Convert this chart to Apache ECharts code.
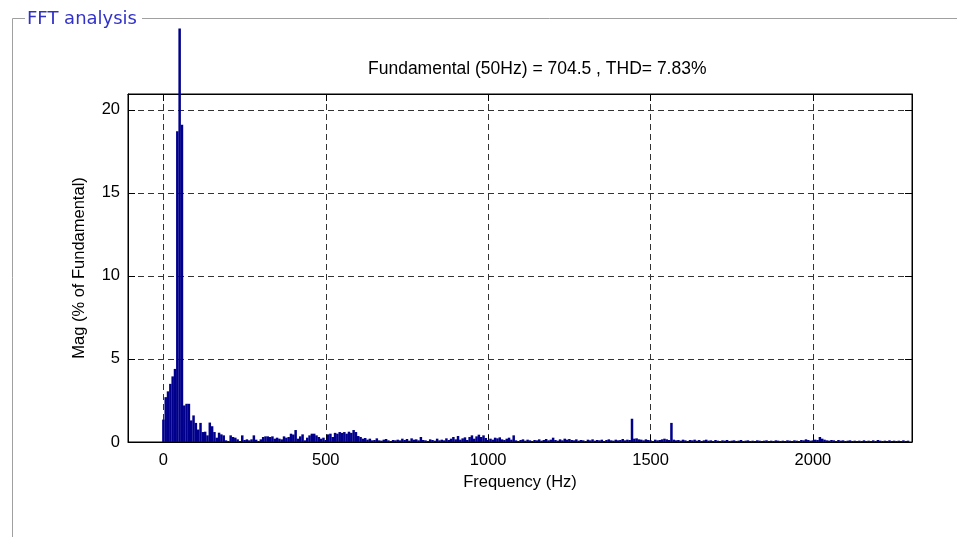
<!DOCTYPE html>
<html>
<head>
<meta charset="utf-8">
<title>FFT analysis</title>
<script src="https://cdn.jsdelivr.net/npm/echarts@6/dist/echarts.min.js"></script>
<style>
  html, body { margin: 0; padding: 0; background: #fff; }
  #chart { width: 957px; height: 537px; }
</style>
</head>
<body>
<div id="chart"></div>
<script>
// FFT bins are 50/7 Hz apart (7 cycle window), magnitudes in % of fundamental
const BIN_HZ = 50 / 7;
const magnitudes = [
  1.35, 2.7, 3.05, 3.5, 3.95, 4.4, 18.7, 24.9, 19.1, 2.2, 2.3, 2.3, 1.3, 1.6, 1.15, 0.75, 1.15, 0.6, 0.62, 0.4,
  1.17, 0.95, 0.6, 0.26, 0.56, 0.46, 0.4, 0.1, 0.06, 0.4, 0.3, 0.26, 0.16, 0.06, 0.4, 0.12, 0.16, 0.1, 0.16, 0.4,
  0.14, 0.06, 0.16, 0.3, 0.34, 0.34, 0.3, 0.34, 0.2, 0.26, 0.2, 0.16, 0.34, 0.26, 0.3, 0.5, 0.45, 0.72, 0.2, 0.34,
  0.46, 0.1, 0.26, 0.4, 0.5, 0.5, 0.4, 0.3, 0.2, 0.26, 0.12, 0.46, 0.5, 0.3, 0.55, 0.5, 0.6, 0.55, 0.6, 0.5,
  0.62, 0.55, 0.72, 0.6, 0.36, 0.3, 0.2, 0.24, 0.14, 0.2, 0.1, 0.12, 0.22, 0.1, 0.08, 0.14, 0.18, 0.1, 0.06, 0.12,
  0.1, 0.14, 0.1, 0.2, 0.12, 0.18, 0.08, 0.22, 0.14, 0.16, 0.1, 0.3, 0.12, 0.1, 0.06, 0.16, 0.12, 0.08, 0.2, 0.1,
  0.14, 0.1, 0.22, 0.12, 0.2, 0.3, 0.16, 0.36, 0.14, 0.22, 0.28, 0.12, 0.3, 0.4, 0.2, 0.34, 0.44, 0.3, 0.4, 0.24,
  0.12, 0.2, 0.14, 0.26, 0.22, 0.28, 0.16, 0.12, 0.2, 0.26, 0.14, 0.4, 0.1, 0.06, 0.12, 0.16, 0.08, 0.14, 0.1, 0.06,
  0.12, 0.1, 0.16, 0.08, 0.12, 0.18, 0.1, 0.14, 0.26, 0.12, 0.08, 0.16, 0.1, 0.2, 0.14, 0.18, 0.12, 0.1, 0.16, 0.08,
  0.12, 0.1, 0.06, 0.14, 0.1, 0.16, 0.08, 0.12, 0.1, 0.14, 0.06, 0.12, 0.16, 0.1, 0.08, 0.14, 0.1, 0.12, 0.18, 0.1,
  0.14, 0.12, 1.4, 0.2, 0.22, 0.16, 0.14, 0.1, 0.16, 0.12, 0.1, 0.06, 0.14, 0.1, 0.12, 0.16, 0.2, 0.16, 0.12, 1.15,
  0.14, 0.1, 0.12, 0.08, 0.14, 0.1, 0.06, 0.12, 0.1, 0.14, 0.08, 0.12, 0.06, 0.1, 0.14, 0.08, 0.1, 0.06, 0.12, 0.08,
  0.06, 0.1, 0.08, 0.12, 0.06, 0.08, 0.1, 0.06, 0.08, 0.12, 0.06, 0.08, 0.1, 0.06, 0.08, 0.06, 0.1, 0.08, 0.06, 0.08,
  0.1, 0.06, 0.08, 0.06, 0.1, 0.08, 0.06, 0.08, 0.06, 0.1, 0.08, 0.06, 0.1, 0.08, 0.06, 0.12, 0.1, 0.16, 0.12, 0.08,
  0.1, 0.14, 0.12, 0.3, 0.2, 0.14, 0.1, 0.08, 0.12, 0.1, 0.06, 0.12, 0.08, 0.1, 0.06, 0.08, 0.1, 0.06, 0.08, 0.06,
  0.08, 0.06, 0.1, 0.06, 0.08, 0.06, 0.1, 0.06, 0.12, 0.08, 0.06, 0.08, 0.06, 0.1, 0.06, 0.08, 0.06, 0.08, 0.06, 0.1, 0.06, 0.08
];
const xTicks = [0, 500, 1000, 1500, 2000];
const yTicks = [0, 5, 10, 15, 20];
const X_MIN = -109, X_MAX = 2305;
const Y_MIN = 0, Y_MAX = 20.95;

const chartTitle = 'Fundamental (50Hz) = 704.5 , THD= 7.83%';
const panelTitle = 'FFT analysis';

const FONT = 'Liberation Sans, Arial, sans-serif';
const BAR = '#00008c';
const FRAME = '#a0a0a0';

const chart = echarts.init(document.getElementById('chart'), null, { renderer: 'canvas' });

const tickStyle = { show: true, inside: true, length: 7, lineStyle: { color: '#000' } };
const gridDash = { show: true, lineStyle: { color: '#333', type: [6, 4], width: 1 } };
const plainNumber = (v) => String(v);

chart.setOption({
  animation: false,
  backgroundColor: '#fff',
  title: {
    text: chartTitle,
    left: 368,
    top: 60,
    padding: 0,
    textStyle: { fontFamily: FONT, fontSize: 17.5, fontWeight: 'normal', color: '#000' },
  },
  grid: { left: 128, right: 45, top: 94, bottom: 95, show: true, borderColor: '#000', borderWidth: 1 },
  xAxis: [{
    type: 'value',
    min: X_MIN,
    max: X_MAX,
    name: 'Frequency (Hz)',
    nameLocation: 'middle',
    nameGap: 31,
    nameTextStyle: { fontFamily: FONT, fontSize: 16.5, color: '#000' },
    axisLine: { show: true, onZero: false, lineStyle: { color: '#000' } },
    axisTick: Object.assign({ customValues: xTicks }, tickStyle),
    axisLabel: { customValues: xTicks, formatter: plainNumber, margin: 10, fontFamily: FONT, fontSize: 16.5, color: '#000' },
    splitLine: gridDash,
  }, {
    type: 'value',
    position: 'top',
    min: X_MIN,
    max: X_MAX,
    axisLine: { show: true, onZero: false, lineStyle: { color: '#000' } },
    axisTick: Object.assign({ customValues: xTicks }, tickStyle),
    axisLabel: { show: false },
    splitLine: { show: false },
  }],
  yAxis: [{
    type: 'value',
    min: Y_MIN,
    max: Y_MAX,
    name: 'Mag (% of Fundamental)',
    nameLocation: 'middle',
    nameGap: 40,
    nameTextStyle: { fontFamily: FONT, fontSize: 16.5, color: '#000' },
    axisLine: { show: true, onZero: false, lineStyle: { color: '#000' } },
    axisTick: Object.assign({ customValues: yTicks }, tickStyle),
    axisLabel: { customValues: yTicks, formatter: plainNumber, margin: 8, fontFamily: FONT, fontSize: 16.5, color: '#000' },
    splitLine: gridDash,
  }, {
    type: 'value',
    position: 'right',
    min: Y_MIN,
    max: Y_MAX,
    axisLine: { show: true, onZero: false, lineStyle: { color: '#000' } },
    axisTick: Object.assign({ customValues: yTicks }, tickStyle),
    axisLabel: { show: false },
    splitLine: { show: false },
  }],
  series: [{
    type: 'bar',
    name: 'Mag',
    xAxisIndex: 0,
    yAxisIndex: 0,
    clip: false,
    barWidth: 2.5,
    itemStyle: { color: BAR },
    data: magnitudes.map((m, i) => [i * BIN_HZ, m]),
  }],
  graphic: [
    // group box frame around the plot, like the powergui panel
    { type: 'line', shape: { x1: 12.5, y1: 18.5, x2: 12.5, y2: 537 }, style: { stroke: FRAME, lineWidth: 1 } },
    { type: 'line', shape: { x1: 12.5, y1: 18.5, x2: 25, y2: 18.5 }, style: { stroke: FRAME, lineWidth: 1 } },
    { type: 'line', shape: { x1: 142, y1: 18.5, x2: 957, y2: 18.5 }, style: { stroke: FRAME, lineWidth: 1 } },
    {
      type: 'text',
      x: 27,
      y: 19,
      style: {
        text: panelTitle,
        fill: '#3232c8',
        font: '18px "DejaVu Sans", sans-serif',
        textVerticalAlign: 'middle',
      },
    },
  ],
});
</script>
</body>
</html>
